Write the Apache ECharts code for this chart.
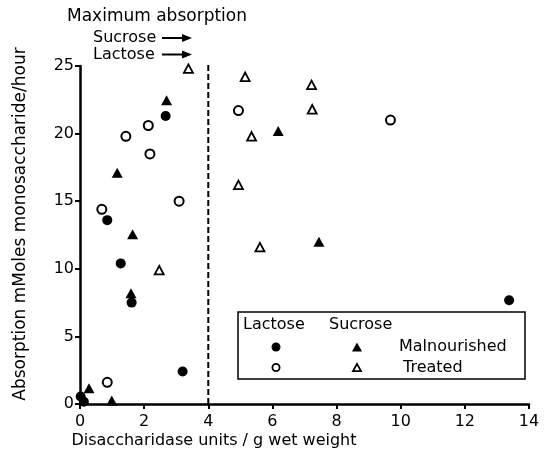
<!DOCTYPE html>
<html>
<head>
<meta charset="utf-8">
<script src="https://cdn.jsdelivr.net/npm/echarts@6/dist/echarts.min.js"></script>
<style>html,body{margin:0;padding:0;background:#fff}#c{width:548px;height:454px}</style>
</head>
<body>
<div id="c"></div>
<script>
// Data
const lactoseMalX = [0.02, 0.12, 0.85, 1.27, 1.61, 2.67, 3.2, 13.38];
const lactoseMalY = [0.55, 0.17, 13.6, 10.4, 7.5, 21.3, 2.4, 7.67];
const sucroseMalX = [0.28, 0.99, 1.16, 1.64, 1.59, 2.70, 6.18, 7.45];
const sucroseMalY = [1.17, 0.25, 17.1, 12.55, 8.2, 22.46, 20.2, 12.0];
const lactoseTrtX = [0.85, 0.68, 1.43, 2.13, 2.18, 3.09, 4.94, 9.68];
const lactoseTrtY = [1.6, 14.4, 19.8, 20.6, 18.5, 15.0, 21.7, 21.0];
const sucroseTrtX = [3.38, 2.47, 5.15, 5.35, 4.94, 5.61, 7.22, 7.24];
const sucroseTrtY = [24.8, 9.9, 24.2, 19.8, 16.2, 11.6, 23.6, 21.8];
const maxAbsX = [4, 4];
const maxAbsY = [0, 25.3];
const xTicks = [0, 2, 4, 6, 8, 10, 12, 14];
const yTicks = [0, 5, 10, 15, 20, 25];
const xTitle = 'Disaccharidase units / g wet weight';
const yTitle = 'Absorption mMoles monosaccharide/hour';

const zip = (xs, ys) => xs.map((x, i) => [x, ys[i]]);
const FONT = '"DejaVu Sans", sans-serif';
const chart = echarts.init(document.getElementById('c'), null, {renderer: 'canvas'});

function txt(text, x, y, size, align) {
  return {type: 'text', x: x, y: y, style: {text: text, fill: '#000', font: size + 'px ' + FONT,
    textAlign: align || 'left', textVerticalAlign: 'middle', align: align || 'left', verticalAlign: 'middle'}};
}
function arrow(x1, x2, y) {
  return [
    {type: 'line', shape: {x1: x1, y1: y, x2: x2 - 6, y2: y}, style: {stroke: '#000', lineWidth: 2}},
    {type: 'polygon', shape: {points: [[x2 - 10, y - 4], [x2, y], [x2 - 10, y + 4]]}, style: {fill: '#000'}}
  ];
}
function tri(cx, cy, s, filled) {
  const h = s * 0.9;
  return {type: 'polygon', shape: {points: [[cx, cy - h / 2], [cx + s / 2, cy + h / 2], [cx - s / 2, cy + h / 2]]},
    style: filled ? {fill: '#000'} : {fill: '#fff', stroke: '#000', lineWidth: 1.8}};
}

const graphics = [
  txt('Maximum absorption', 157, 17, 17, 'center'),
  txt('Sucrose', 93, 38, 16),
  txt('Lactose', 93, 54.5, 16),
  ...arrow(162, 192, 38),
  ...arrow(162, 192, 54.5),
  {type: 'text', x: 21, y: 224, rotation: Math.PI / 2,
   style: {text: yTitle, fill: '#000', font: '17px ' + FONT, textAlign: 'center', textVerticalAlign: 'middle', align: 'center', verticalAlign: 'middle'}},
  txt(xTitle, 214, 441, 16, 'center'),
  {type: 'rect', shape: {x: 238, y: 312, width: 287, height: 67}, style: {fill: '#fff', stroke: '#000', lineWidth: 1.5}},
  txt('Lactose', 243, 325, 16),
  txt('Sucrose', 329, 325, 16),
  {type: 'circle', shape: {cx: 276, cy: 347, r: 4.5}, style: {fill: '#000'}},
  tri(357, 347, 10, true),
  txt('Malnourished', 399, 347, 16),
  {type: 'circle', shape: {cx: 276, cy: 367.5, r: 3.6}, style: {fill: '#fff', stroke: '#000', lineWidth: 1.8}},
  tri(357, 367.5, 8, false),
  txt('Treated', 403, 367.5, 16)
];

chart.setOption({
  animation: false,
  backgroundColor: '#fff',
  grid: {left: 80, right: 19, top: 66, bottom: 50, containLabel: false},
  xAxis: {
    type: 'value', min: xTicks[0], max: xTicks[xTicks.length - 1], interval: 2,
    axisLine: {lineStyle: {color: '#000', width: 2.5}},
    axisTick: {show: true, length: 5, lineStyle: {color: '#000', width: 2}},
    axisLabel: {color: '#000', fontFamily: FONT, fontSize: 16, margin: 10},
    splitLine: {show: false}
  },
  yAxis: {
    type: 'value', min: yTicks[0], max: yTicks[yTicks.length - 1], interval: 5,
    axisLine: {show: true, lineStyle: {color: '#000', width: 2.5}},
    axisTick: {show: true, length: 5, lineStyle: {color: '#000', width: 2}},
    axisLabel: {color: '#000', fontFamily: FONT, fontSize: 16, margin: 6},
    splitLine: {show: false}
  },
  series: [
    {type: 'line', data: zip(maxAbsX, maxAbsY), symbol: 'none', clip: false, silent: true,
     lineStyle: {color: '#000', width: 2, type: [6, 3]}, z: 1},
    {type: 'scatter', name: 'Lactose Malnourished', data: zip(lactoseMalX, lactoseMalY), symbol: 'circle', symbolSize: 10,
     itemStyle: {color: '#000', opacity: 1}, clip: false, z: 3},
    {type: 'scatter', name: 'Sucrose Malnourished', data: zip(sucroseMalX, sucroseMalY), symbol: 'triangle', symbolSize: [11, 10],
     itemStyle: {color: '#000', opacity: 1}, clip: false, z: 3},
    {type: 'scatter', name: 'Lactose Treated', data: zip(lactoseTrtX, lactoseTrtY), symbol: 'circle', symbolSize: 9,
     itemStyle: {color: '#fff', borderColor: '#000', borderWidth: 2, opacity: 1}, clip: false, z: 3},
    {type: 'scatter', name: 'Sucrose Treated', data: zip(sucroseTrtX, sucroseTrtY), symbol: 'triangle', symbolSize: [9, 8.5],
     itemStyle: {color: '#fff', borderColor: '#000', borderWidth: 1.8, opacity: 1}, clip: false, z: 3}
  ],
  graphic: graphics
});
</script>
</body>
</html>
